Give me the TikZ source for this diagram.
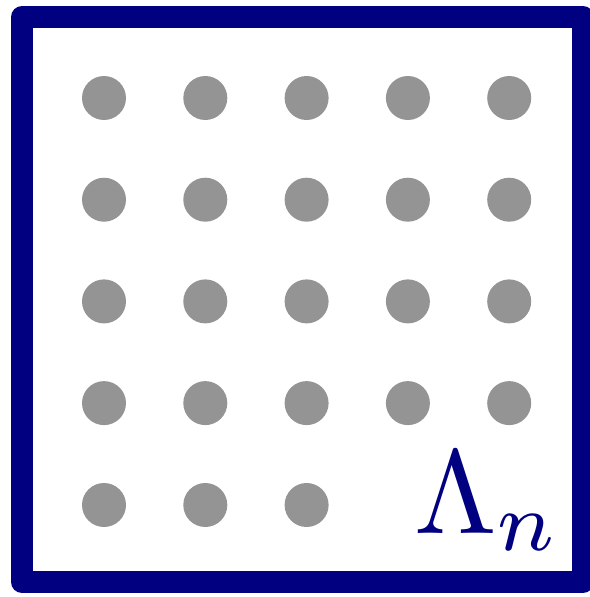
\documentclass[tikz,border=0pt]{standalone}
\usepackage{amsmath,amssymb}
\usepackage{graphicx}
\usepackage{xcolor}
\usepackage{tikz}
\definecolor{sitegray}{HTML}{949494}
\definecolor{boxnavy}{HTML}{000080}

\begin{document}
\begin{tikzpicture}[
  x=1pt, y=-1pt,
  site/.style={circle, fill=sitegray, inner sep=0pt, minimum size=44pt},
  frame/.style={draw=boxnavy, line width=22pt, line join=round},
  latlabel/.style={text=boxnavy, inner sep=0pt}
]
\useasboundingbox (0,0) rectangle (589,597);
\draw[frame] (22,17) rectangle (583,582);
% lattice sites, row by row
\foreach \j in {1,...,4}
  \foreach \i in {1,...,5}
    \node[site] (s\i\j) at ({104+101.3*(\i-1)},{98+101.7*(\j-1)}) {};
\foreach \i in {1,...,3}
  \node[site] (s\i5) at ({104+101.3*(\i-1)},505) {};
\node[latlabel, anchor=base west] (lam) at (414,533) {\scalebox{11.9}{$\Lambda_n$}};
\end{tikzpicture}
\end{document}
